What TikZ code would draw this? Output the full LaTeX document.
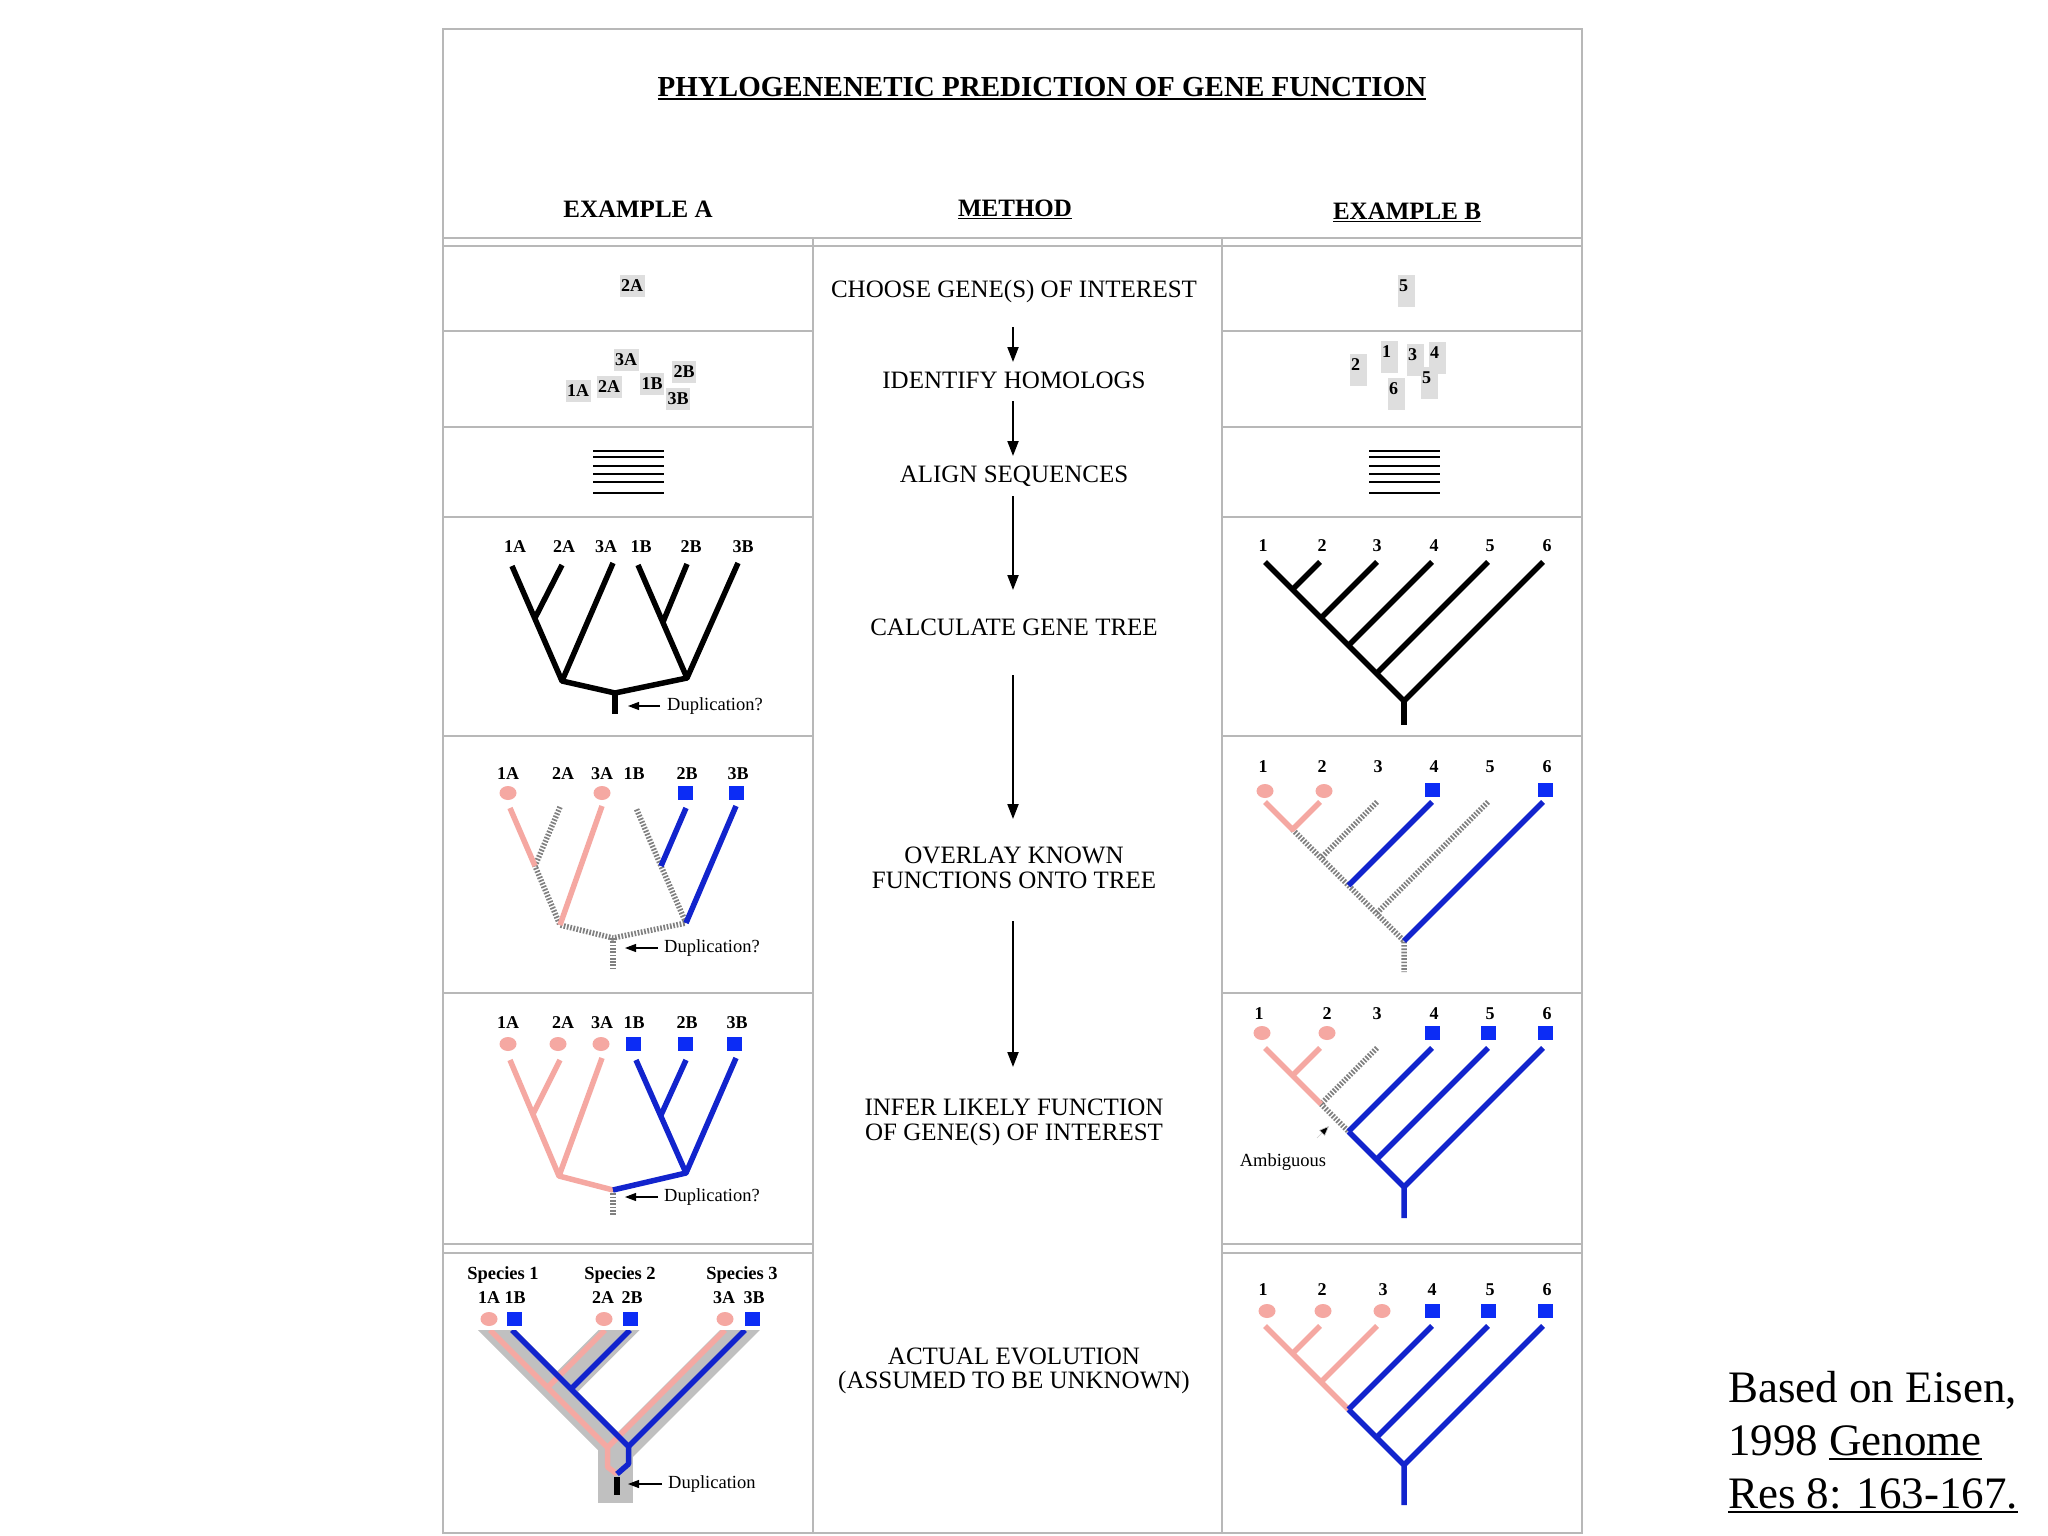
\documentclass[tikz,border=0pt]{standalone}
\usepackage{fontspec}
\setmainfont{Liberation Serif}
\usetikzlibrary{arrows.meta}
\definecolor{framec}{RGB}{184,184,184}
\definecolor{pinkc}{RGB}{245,168,162}
\definecolor{bluec}{RGB}{18,36,205}
\definecolor{blues}{RGB}{12,44,245}
\definecolor{boxg}{RGB}{222,222,222}
\definecolor{hatchc}{RGB}{128,128,128}
\definecolor{sband}{RGB}{192,192,192}
\newcommand{\ulx}[1]{\setbox0=\hbox{#1}\leavevmode\rlap{\rule[-0.12em]{\wd0}{0.06em}}\box0}
\newcommand{\fs}[1]{\fontsize{#1}{#1}\selectfont}
\newcommand{\pdot}[2]{\fill[pinkc] (#1,#2) ellipse [x radius=8.5, y radius=7];}
\newcommand{\bsq}[2]{\fill[blues] ({#1-7.5},{#2-7}) rectangle ({#1+7.5},{#2+7});}
\newcommand{\rtcoords}{%
\coordinate (t1) at (1265,0); \coordinate (t2) at (1320,0); \coordinate (t3) at (1377,0);
\coordinate (t4) at (1432,0); \coordinate (t5) at (1488,0); \coordinate (t6) at (1543,0);
\coordinate (j2) at (1292.5,27.5); \coordinate (j3) at (1321,56); \coordinate (j4) at (1348.5,83.5);
\coordinate (j5) at (1376.5,111.5); \coordinate (rt) at (1404,139);}
\tikzset{
 gridline/.style={draw=framec, line width=2.5pt},
 lbl/.style={font=\fs{18}\bfseries, inner sep=0pt},
 gb/.style={lbl, fill=boxg, inner xsep=1.5pt, inner ysep=5pt},
 meth/.style={font=\fs{25}, inner sep=0pt, anchor=base},
 note/.style={font=\fs{18.5}, inner sep=0pt, anchor=west},
 br/.style={line width=5.5pt, line join=round},
 blk/.style={br, draw=black},
 pk/.style={br, draw=pinkc},
 bl/.style={br, draw=bluec},
 hat/.style={br, draw=hatchc, dash pattern=on 1.7pt off 1.6pt},
 marrow/.style={line width=2pt, -{Triangle[length=15pt,width=11pt]}},
 darrow/.style={line width=1.1pt, -{Triangle[length=11pt,width=8pt]}},
}
\begin{document}
\begin{tikzpicture}[x=1pt,y=-1pt]
\useasboundingbox (0,0) rectangle (2048,1536);
\fill[white] (0,0) rectangle (2048,1536);

% ---------- frame ----------
\draw[gridline] (443,29) rectangle (1582,1533);
\draw[gridline] (443,238) -- (1582,238);
\draw[gridline] (443,246) -- (1582,246);
\draw[gridline] (813,238) -- (813,1533);
\draw[gridline] (1222,238) -- (1222,1533);
\foreach \yy in {331,427,517,736,993,1244,1253} {
  \draw[gridline] (443,\yy) -- (813,\yy);
  \draw[gridline] (1222,\yy) -- (1582,\yy);
}

% ---------- headings ----------
\node[font=\fs{29}\bfseries, inner sep=0pt, anchor=base] (title) at (1042,96.5) {\ulx{PHYLOGENENETIC PREDICTION OF GENE FUNCTION}};
\node[font=\fs{25}\bfseries, inner sep=0pt, anchor=base] (exA) at (638,217) {EXAMPLE A};
\node[font=\fs{25}\bfseries, inner sep=0pt, anchor=base] (meth) at (1015,216) {\ulx{METHOD}};
\node[font=\fs{25}\bfseries, inner sep=0pt, anchor=base] (exB) at (1407,219) {\ulx{EXAMPLE B}};

% ---------- method column ----------
\node[meth] (m1) at (1014,297) {CHOOSE GENE(S) OF INTEREST};
\node[meth] (m2) at (1014,388) {IDENTIFY HOMOLOGS};
\node[meth] (m3) at (1014,482) {ALIGN SEQUENCES};
\node[meth] (m4) at (1014,635) {CALCULATE GENE TREE};
\node[meth] (m5a) at (1014,863) {OVERLAY KNOWN};
\node[meth] (m5b) at (1014,888) {FUNCTIONS ONTO TREE};
\node[meth] (m6a) at (1014,1115) {INFER LIKELY FUNCTION};
\node[meth] (m6b) at (1014,1140) {OF GENE(S) OF INTEREST};
\node[meth] (m7a) at (1014,1364) {ACTUAL EVOLUTION};
\node[meth] (m7b) at (1014,1388) {(ASSUMED TO BE UNKNOWN)};
\coordinate (a1s) at (1013,327); \coordinate (a1e) at (1013,362);
\coordinate (a2s) at (1013,401); \coordinate (a2e) at (1013,456);
\coordinate (a3s) at (1013,496); \coordinate (a3e) at (1013,590);
\coordinate (a4s) at (1013,675); \coordinate (a4e) at (1013,819);
\coordinate (a5s) at (1013,921); \coordinate (a5e) at (1013,1067);
\draw[marrow] (a1s) -- (a1e);
\draw[marrow] (a2s) -- (a2e);
\draw[marrow] (a3s) -- (a3e);
\draw[marrow] (a4s) -- (a4e);
\draw[marrow] (a5s) -- (a5e);

% ---------- row 1-3, example A ----------
\node[gb] (r1a) at (632,286) {2A};
\node[gb] (r2a3A) at (626,360) {3A};
\node[gb] (r2a1A) at (578,391) {1A};
\node[gb] (r2a2A) at (609,387) {2A};
\node[gb] (r2a1B) at (652,384) {1B};
\node[gb] (r2a2B) at (684,372) {2B};
\node[gb] (r2a3B) at (678,399) {3B};
\foreach \yy in {450.7,457.3,466,474,482.3,492.7} {
  \draw[line width=2.2pt] (593,\yy) -- (664,\yy);
  \draw[line width=2.2pt] (1369,\yy) -- (1440,\yy);
}

% ---------- row 1-2, example B ----------
\foreach \bx/\by in {1398/275,1350/354,1381/341,1407/344,1429/342,1421/367,1388/378}
  \fill[boxg] (\bx,\by) rectangle ({\bx+17},{\by+32});
\node[lbl, anchor=west] (r1b5) at (1399,286) {5};
\node[lbl, anchor=west] (r2b2) at (1351,365) {2};
\node[lbl, anchor=west] (r2b1) at (1382,352) {1};
\node[lbl, anchor=west] (r2b3) at (1408,355) {3};
\node[lbl, anchor=west] (r2b4) at (1430,353) {4};
\node[lbl, anchor=west] (r2b5) at (1422,378) {5};
\node[lbl, anchor=west] (r2b6) at (1389,389) {6};

% ---------- row 4, example A ----------
\foreach \nm/\xx/\tt in {a/515/1A,b/564/2A,c/606/3A,d/641/1B,e/691/2B,f/743/3B}
  \node[lbl] (l4\nm) at (\xx,547) {\tt};
\coordinate (tA1) at (512,566); \coordinate (tA2) at (562,565); \coordinate (tA3) at (613,563);
\coordinate (tB1) at (638,565); \coordinate (tB2) at (687,564); \coordinate (tB3) at (738,563);
\coordinate (n12) at (535,618); \coordinate (nA) at (562,681);
\coordinate (nB12) at (663,622); \coordinate (nB) at (687,678);
\coordinate (rtA) at (615,693); \coordinate (stA) at (615,714);
\draw[blk] (tA1) -- (nA) -- (rtA) -- (nB) -- (tB1);
\draw[blk] (tA2) -- (n12); \draw[blk] (tA3) -- (nA);
\draw[blk] (tB2) -- (nB12); \draw[blk] (tB3) -- (nB);
\draw[blk] (rtA) -- (stA);
\node[note] (dup4) at (667,706) {Duplication?};
\coordinate (d4s) at (660,706); \coordinate (d4e) at (628,706);
\draw[darrow] (d4s) -- (d4e);

% ---------- row 4, example B ----------
\foreach \nm/\xx/\tt in {a/1263/1,b/1322/2,c/1377/3,d/1434/4,e/1490/5,f/1547/6}
  \node[lbl] (r4\nm) at (\xx,546) {\tt};
\begin{scope}[shift={(0,562)}]
\rtcoords
\coordinate (sb) at (1404,163);
\draw[blk] (t1) -- (rt) -- (t6);
\draw[blk] (t2) -- (j2); \draw[blk] (t3) -- (j3); \draw[blk] (t4) -- (j4); \draw[blk] (t5) -- (j5);
\draw[blk] (rt) -- (sb);
\end{scope}

% ---------- row 5, example A ----------
\foreach \nm/\xx/\tt in {a/508/1A,b/563/2A,c/602/3A,d/634/1B,e/687/2B,f/738/3B}
  \node[lbl] (l5\nm) at (\xx,774) {\tt};
\pdot{508}{793} \pdot{602}{793} \bsq{685}{793} \bsq{736}{793}
\coordinate (tA1) at (510,808); \coordinate (tA2) at (560,807); \coordinate (tA3) at (602,806);
\coordinate (tB1) at (636,808); \coordinate (tB2) at (686,808); \coordinate (tB3) at (736,806);
\coordinate (n12) at (535,866); \coordinate (nA) at (560,925);
\coordinate (nB12) at (661,866); \coordinate (nB) at (686,923);
\coordinate (rtA) at (613,938); \coordinate (stA) at (613,968);
\draw[hat] (tA2) -- (n12) -- (nA) -- (rtA) -- (nB) -- (nB12) -- (tB1);
\draw[hat] (rtA) -- (stA);
\draw[pk] (tA1) -- (n12); \draw[pk] (tA3) -- (nA);
\draw[bl] (tB2) -- (nB12); \draw[bl] (tB3) -- (nB);
\node[note] (dup5) at (664,948) {Duplication?};
\coordinate (d5s) at (658,948); \coordinate (d5e) at (625,948);
\draw[darrow] (d5s) -- (d5e);

% ---------- row 5, example B ----------
\foreach \nm/\xx/\tt in {a/1263/1,b/1322/2,c/1378/3,d/1434/4,e/1490/5,f/1547/6}
  \node[lbl] (r5\nm) at (\xx,767) {\tt};
\pdot{1265}{791} \pdot{1324}{791} \bsq{1432}{790} \bsq{1545}{790}
\begin{scope}[shift={(0,802)}]
\rtcoords
\coordinate (sb) at (1404,170);
\draw[hat] (j2) -- (rt) -- (sb);
\draw[hat] (t3) -- (j3); \draw[hat] (t5) -- (j5);
\draw[pk] (t1) -- (j2) -- (t2);
\draw[bl] (t4) -- (j4); \draw[bl] (t6) -- (rt);
\end{scope}

% ---------- row 6, example A ----------
\foreach \nm/\xx/\tt in {a/508/1A,b/563/2A,c/602/3A,d/634/1B,e/687/2B,f/737/3B}
  \node[lbl] (l6\nm) at (\xx,1023) {\tt};
\pdot{508}{1044} \pdot{558}{1044} \pdot{601}{1044}
\bsq{633}{1044} \bsq{685}{1044} \bsq{734}{1044}
\coordinate (tA1) at (510,1060); \coordinate (tA2) at (560,1060); \coordinate (tA3) at (602,1058);
\coordinate (tB1) at (636,1060); \coordinate (tB2) at (686,1060); \coordinate (tB3) at (736,1058);
\coordinate (n12) at (533,1114); \coordinate (nA) at (559,1176);
\coordinate (nB12) at (661,1115); \coordinate (nB) at (686,1173);
\coordinate (rtA) at (613,1190); \coordinate (stA) at (613,1215);
\draw[hat] (rtA) -- (stA);
\draw[pk] (tA1) -- (nA) -- (rtA); \draw[pk] (tA2) -- (n12); \draw[pk] (tA3) -- (nA);
\draw[bl] (tB1) -- (nB) -- (rtA); \draw[bl] (tB2) -- (nB12); \draw[bl] (tB3) -- (nB);
\node[note] (dup6) at (664,1197) {Duplication?};
\coordinate (d6s) at (658,1197); \coordinate (d6e) at (625,1197);
\draw[darrow] (d6s) -- (d6e);

% ---------- row 6, example B ----------
\foreach \nm/\xx/\tt in {a/1259/1,b/1327/2,c/1377/3,d/1434/4,e/1490/5,f/1547/6}
  \node[lbl] (r6\nm) at (\xx,1014) {\tt};
\pdot{1262}{1033} \pdot{1327}{1033} \bsq{1432}{1033} \bsq{1488}{1033} \bsq{1545}{1033}
\begin{scope}[shift={(0,1048)}]
\rtcoords
\coordinate (sb) at (1404,170);
\draw[hat] (t3) -- (j3) -- (j4);
\draw[pk] (t1) -- (j3); \draw[pk] (t2) -- (j2);
\draw[bl] (j4) -- (rt) -- (sb);
\draw[bl] (t4) -- (j4); \draw[bl] (t5) -- (j5); \draw[bl] (t6) -- (rt);
\end{scope}
\node[font=\fs{18.5}, inner sep=0pt] (amb) at (1283,1162) {Ambiguous};
\coordinate (ambs) at (1317,1138); \coordinate (ambe) at (1329,1126);
\draw[line width=0.6pt, draw=black!20, -{Triangle[length=10pt,width=8pt,fill=black]}] (ambs) -- (ambe);

% ---------- row 7, example A (actual evolution) ----------
\node[font=\fs{18.5}\bfseries, inner sep=0pt] (sp1) at (503,1275) {Species 1};
\node[font=\fs{18.5}\bfseries, inner sep=0pt] (sp2) at (620,1275) {Species 2};
\node[font=\fs{18.5}\bfseries, inner sep=0pt] (sp3) at (742,1275) {Species 3};
\foreach \nm/\xx/\tt in {a/489/1A,b/515/1B,c/603/2A,d/632/2B,e/724/3A,f/754/3B}
  \node[lbl] (l7\nm) at (\xx,1298) {\tt};
\pdot{489}{1319} \bsq{514}{1319} \pdot{604}{1319} \bsq{630}{1319} \pdot{725}{1319} \bsq{752}{1319}
\begin{scope}
\clip (444,1330) rectangle (812,1532);
\draw[sband, line width=27pt] (478,1311) -- (626,1459);
\draw[sband, line width=29pt] (638,1311) -- (558,1391);
\draw[sband, line width=28pt] (759,1311) -- (611,1459);
\fill[sband] (598,1445) rectangle (633,1503);
\draw[pk] (490,1330) -- (607.5,1447.5) -- (607.5,1467) -- (617,1474);
\draw[pk] (605,1330) -- (547.5,1387.5);
\draw[pk] (725,1330) -- (607.5,1447.5);
\draw[bl] (512,1330) -- (628.5,1446.5) -- (628.5,1464) -- (617,1474);
\draw[bl] (630,1330) -- (571,1389);
\draw[bl] (745,1330) -- (628.5,1446.5);
\end{scope}
\coordinate (dupt) at (617,1477); \coordinate (dupb) at (617,1495);
\draw[line width=5.5pt] (dupt) -- (dupb);
\node[note] (dup7) at (668,1484) {Duplication};
\coordinate (d7s) at (662,1484); \coordinate (d7e) at (628,1484);
\draw[darrow] (d7s) -- (d7e);

% ---------- row 7, example B ----------
\foreach \nm/\xx/\tt in {a/1263/1,b/1322/2,c/1383/3,d/1432/4,e/1490/5,f/1547/6}
  \node[lbl] (r7\nm) at (\xx,1290) {\tt};
\pdot{1267}{1311} \pdot{1323}{1311} \pdot{1382}{1311} \bsq{1432}{1311} \bsq{1488}{1311} \bsq{1545}{1311}
\begin{scope}[shift={(0,1326)}]
\rtcoords
\coordinate (sb) at (1404,179);
\draw[pk] (t1) -- (j4); \draw[pk] (t2) -- (j2); \draw[pk] (t3) -- (j3);
\draw[bl] (j4) -- (rt) -- (sb);
\draw[bl] (t4) -- (j4); \draw[bl] (t5) -- (j5); \draw[bl] (t6) -- (rt);
\end{scope}

% ---------- attribution ----------
\node[font=\fs{45}, inner sep=0pt, anchor=base west] (cit1) at (1728,1402) {Based on Eisen,};
\node[font=\fs{45}, inner sep=0pt, anchor=base west] (cit2) at (1728,1455) {1998 \ulx{Genome}};
\node[font=\fs{45}, inner sep=0pt, anchor=base west] (cit3) at (1728,1508) {\ulx{Res 8: 163-167.}};
\end{tikzpicture}
\end{document}
